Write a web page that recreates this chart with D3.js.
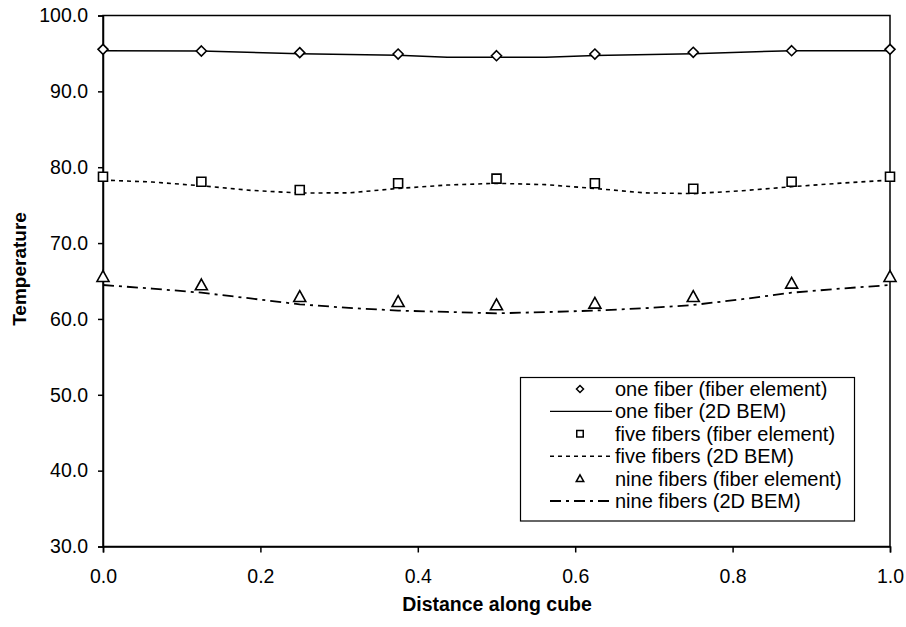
<!DOCTYPE html>
<html>
<head>
<meta charset="utf-8">
<script src="https://cdn.jsdelivr.net/npm/d3@7"></script>
<style>
  html, body { margin: 0; padding: 0; background: #fff; }
  svg { display: block; font-family: "Liberation Sans", Arial, Helvetica, sans-serif; }
</style>
</head>
<body>
<svg id="chart" width="906" height="627"></svg>
<script>
// ---- Data ----
const markerX = [0, 0.125, 0.25, 0.375, 0.5, 0.625, 0.75, 0.875, 1.0];
const oneFiberElem = [95.54, 95.32, 95.10, 94.92, 94.70, 94.92, 95.15, 95.36, 95.54];
const fiveFiberElem = [78.75, 78.09, 77.00, 77.88, 78.49, 77.88, 77.17, 78.09, 78.75];
const nineFiberElem = [65.57, 64.47, 62.93, 62.27, 61.84, 62.06, 62.93, 64.70, 65.57];

const oneBemX = [0, 0.125, 0.25, 0.375, 0.4375, 0.5, 0.5625, 0.625, 0.75, 0.875, 1.0];
const oneBemY = [95.36, 95.32, 94.96, 94.75, 94.49, 94.49, 94.49, 94.72, 94.96, 95.36, 95.36];

const bemX16 = [0, 0.0625, 0.125, 0.1875, 0.25, 0.3125, 0.375, 0.4375, 0.5, 0.5625, 0.625, 0.6875, 0.75, 0.8125, 0.875, 0.9375, 1.0];
const fiveBemY = [78.30, 78.05, 77.55, 76.95, 76.60, 76.62, 77.20, 77.65, 77.88, 77.70, 77.20, 76.62, 76.52, 76.90, 77.43, 77.90, 78.30];
const nineBemY = [64.47, 64.00, 63.46, 62.70, 61.93, 61.45, 61.10, 60.92, 60.74, 60.90, 61.10, 61.40, 61.84, 62.60, 63.46, 64.00, 64.47];

const xTicks = [0, 0.2, 0.4, 0.6, 0.8, 1.0];
const yTicks = [30, 40, 50, 60, 70, 80, 90, 100];

const legendLabels = [
  "one fiber (fiber element)",
  "one fiber (2D BEM)",
  "five fibers (fiber element)",
  "five fibers (2D BEM)",
  "nine fibers (fiber element)",
  "nine fibers (2D BEM)"
];

// ---- Layout ----
const svg = d3.select("#chart");
const pLeft = 103, pRight = 890, pTop = 15.5, pBottom = 546.5;
const x = d3.scaleLinear().domain([0, 1]).range([pLeft, pRight]);
const y = d3.scaleLinear().domain([30, 100]).range([pBottom, pTop]);

// Plot frame
svg.append("rect")
  .attr("x", pLeft).attr("y", pTop)
  .attr("width", pRight - pLeft).attr("height", pBottom - pTop)
  .attr("fill", "none").attr("stroke", "#000").attr("stroke-width", 1.5);

// Axes
const yAxis = d3.axisLeft(y).tickValues(yTicks).tickFormat(d3.format(".1f")).tickSizeOuter(0).tickSize(5).tickPadding(10);
const xAxis = d3.axisBottom(x).tickValues(xTicks).tickFormat(d3.format(".1f")).tickSizeOuter(0).tickSize(6).tickPadding(17);

const gy = svg.append("g").attr("transform", `translate(${pLeft},0)`).call(yAxis);
const gx = svg.append("g").attr("transform", `translate(0,${pBottom})`).call(xAxis);
[gy, gx].forEach(g => {
  g.select(".domain").attr("stroke", "#000").attr("stroke-width", 1.5);
  g.selectAll(".tick line").attr("stroke", "#000").attr("stroke-width", 1.5);
  g.selectAll(".tick text").attr("fill", "#000").attr("font-size", 19.5)
    .attr("font-family", "'Liberation Sans', Arial, sans-serif");
});

// Axis titles
svg.append("text")
  .attr("x", 497).attr("y", 611)
  .attr("text-anchor", "middle").attr("font-weight", "bold").attr("font-size", 19.5)
  .text("Distance along cube");
svg.append("text")
  .attr("transform", `translate(26,269) rotate(-90)`)
  .attr("text-anchor", "middle").attr("font-weight", "bold").attr("font-size", 19)
  .text("Temperature");

// Lines
const line = d3.line().x(d => x(d[0])).y(d => y(d[1]));
const oneBem = oneBemX.map((v, i) => [v, oneBemY[i]]);
const fiveBem = bemX16.map((v, i) => [v, fiveBemY[i]]);
const nineBem = bemX16.map((v, i) => [v, nineBemY[i]]);

svg.append("path").datum(oneBem).attr("d", line)
  .attr("fill", "none").attr("stroke", "#000").attr("stroke-width", 1.5);
svg.append("path").datum(fiveBem).attr("d", line)
  .attr("fill", "none").attr("stroke", "#000").attr("stroke-width", 1.6)
  .attr("stroke-dasharray", "4,4");
svg.append("path").datum(nineBem).attr("d", line)
  .attr("fill", "none").attr("stroke", "#000").attr("stroke-width", 1.8)
  .attr("stroke-dasharray", "11,5,3,5");

// Markers
const diamondPath = s => { const h = s / 2; return `M0,${-h}L${h},0L0,${h}L${-h},0Z`; };
const squarePath = s => { const h = s / 2; return `M${-h},${-h}H${h}V${h}H${-h}Z`; };
const triPath = s => { const h = s / 2; return `M0,${-h}L${h},${h * 0.8}L${-h},${h * 0.8}Z`; };

function drawMarkers(vals, pathFn, size) {
  svg.append("g").selectAll("path").data(markerX.map((v, i) => [v, vals[i]]))
    .join("path")
    .attr("transform", d => `translate(${x(d[0])},${y(d[1])})`)
    .attr("d", pathFn(size))
    .attr("fill", "#fff").attr("stroke", "#000").attr("stroke-width", 1.6);
}
drawMarkers(oneFiberElem, diamondPath, 10);
drawMarkers(fiveFiberElem, squarePath, 9);
drawMarkers(nineFiberElem, triPath, 12);

// Legend
const lg = svg.append("g");
lg.append("rect").attr("x", 520.5).attr("y", 377.5).attr("width", 334).attr("height", 143.5)
  .attr("fill", "#fff").attr("stroke", "#000").attr("stroke-width", 1.2);
const rowY = i => 389 + i * 22.4;
const lx1 = 550, lx2 = 612, lmx = 580;
legendLabels.forEach((lab, i) => {
  lg.append("text").attr("x", 615).attr("y", rowY(i)).attr("dy", "0.35em")
    .attr("font-size", 20).attr("fill", "#000").text(lab);
});
lg.append("path").attr("transform", `translate(${lmx},${rowY(0)})`).attr("d", diamondPath(7))
  .attr("fill", "#fff").attr("stroke", "#000").attr("stroke-width", 1.5);
lg.append("line").attr("x1", lx1).attr("x2", lx2).attr("y1", rowY(1)).attr("y2", rowY(1))
  .attr("stroke", "#000").attr("stroke-width", 1.3);
lg.append("path").attr("transform", `translate(${lmx},${rowY(2)})`).attr("d", squarePath(6.5))
  .attr("fill", "#fff").attr("stroke", "#000").attr("stroke-width", 1.5);
lg.append("line").attr("x1", lx1).attr("x2", lx2).attr("y1", rowY(3)).attr("y2", rowY(3))
  .attr("stroke", "#000").attr("stroke-width", 1.5).attr("stroke-dasharray", "4,4");
lg.append("path").attr("transform", `translate(${lmx},${rowY(4)})`).attr("d", triPath(7.5))
  .attr("fill", "#fff").attr("stroke", "#000").attr("stroke-width", 1.5);
lg.append("line").attr("x1", lx1).attr("x2", lx2).attr("y1", rowY(5)).attr("y2", rowY(5))
  .attr("stroke", "#000").attr("stroke-width", 1.8).attr("stroke-dasharray", "11,5,3,5");
</script>
</body>
</html>
